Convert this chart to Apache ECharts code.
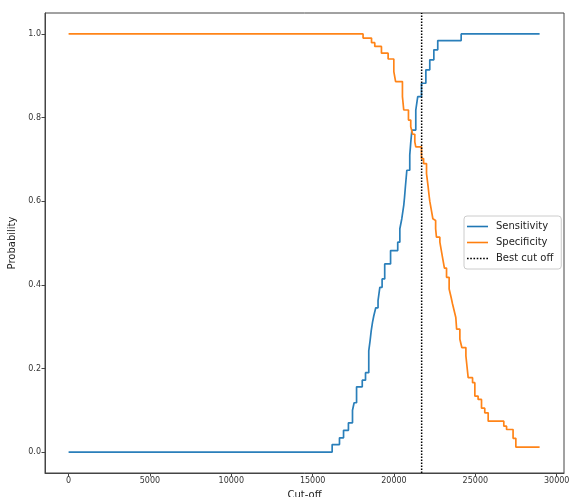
<!DOCTYPE html>
<html>
<head>
<meta charset="utf-8">
<script src="https://cdn.jsdelivr.net/npm/echarts@6/dist/echarts.min.js"></script>
<style>
  html, body { margin: 0; padding: 0; background: #fff; }
  #chart { width: 569px; height: 497px; }
</style>
</head>
<body>
<div id="chart"></div>
<script>
// cut-off value, probability (value holds until the next cut-off)
var sensitivity = [
    [0, 0], [16200, 0.018], [16650, 0.034], [16900, 0.052], [17200, 0.07],
    [17450, 0.1], [17550, 0.118], [17700, 0.156], [18050, 0.172], [18250, 0.19],
    [18450, 0.242], [18530, 0.266], [18600, 0.29], [18680, 0.31], [18760, 0.326],
    [18880, 0.345], [19020, 0.362], [19130, 0.394], [19270, 0.414], [19430, 0.45],
    [19790, 0.482], [20230, 0.502], [20360, 0.534], [20480, 0.558], [20600, 0.59],
    [20650, 0.61], [20700, 0.634], [20790, 0.674], [20970, 0.71], [21030, 0.74],
    [21100, 0.77], [21340, 0.818], [21460, 0.85], [21690, 0.882], [21960, 0.914],
    [22200, 0.938], [22450, 0.962], [22690, 0.984], [24130, 1.0], [28950, 1.0]
];
var specificity = [
    [0, 1], [18100, 0.99], [18620, 0.979], [18820, 0.97], [19230, 0.954],
    [19640, 0.94], [19990, 0.91], [20100, 0.886], [20520, 0.85], [20600, 0.818],
    [20890, 0.794], [21030, 0.778], [21150, 0.76], [21280, 0.742], [21340, 0.73],
    [21690, 0.702], [21820, 0.69], [22000, 0.666], [22100, 0.634], [22150, 0.616],
    [22200, 0.6], [22300, 0.578], [22390, 0.558], [22510, 0.554], [22560, 0.534],
    [22610, 0.514], [22820, 0.502], [22900, 0.484], [22980, 0.466], [23100, 0.44],
    [23230, 0.418], [23390, 0.39], [23500, 0.372], [23600, 0.354], [23700, 0.338],
    [23800, 0.322], [23850, 0.294], [24050, 0.27], [24170, 0.25], [24420, 0.23],
    [24490, 0.204], [24560, 0.178], [24830, 0.166], [24970, 0.134], [25170, 0.126],
    [25380, 0.105], [25580, 0.094], [25790, 0.074], [26750, 0.062], [26920, 0.054],
    [27320, 0.033], [27490, 0.012], [28950, 0.012]
];
var bestCutOff = 21700;
var xTicks = [0, 5000, 10000, 15000, 20000, 25000, 30000];
var yTicks = [0, 0.2, 0.4, 0.6, 0.8, 1.0];
var xRange = [-1450, 30450];
var yRange = [-0.05, 1.05];

var font = 'DejaVu Sans';
// legend glyphs: plain line, dotted line
var solidIcon = 'path://M0,0h21v1.6h-21z';
var dottedIcon = 'path://M0,0h1.6v1.6h-1.6z M3.2,0h1.6v1.6h-1.6z M6.4,0h1.6v1.6h-1.6z ' +
    'M9.6,0h1.6v1.6h-1.6z M12.8,0h1.6v1.6h-1.6z M16,0h1.6v1.6h-1.6z M19.2,0h1.6v1.6h-1.6z';

var chart = echarts.init(document.getElementById('chart'));

chart.setOption({
    backgroundColor: '#fff',
    animation: false,
    textStyle: { fontFamily: font },
    grid: {
        left: 45, right: 5, top: 13, bottom: 24,
        outerBoundsMode: 'none', containLabel: false,
        show: true, borderColor: '#444', borderWidth: 1
    },
    legend: {
        orient: 'vertical',
        left: 464, top: 216,
        padding: [4, 8, 4, 3],
        itemWidth: 21, itemHeight: 2, itemGap: 3,
        backgroundColor: 'rgba(255,255,255,0.8)',
        borderColor: '#ccc', borderWidth: 1, borderRadius: 3,
        textStyle: { fontFamily: font, fontSize: 10, color: '#222', padding: [0, 0, 0, 3], lineHeight: 13 },
        data: [
            { name: 'Sensitivity', icon: solidIcon },
            { name: 'Specificity', icon: solidIcon },
            { name: 'Best cut off', icon: dottedIcon }
        ]
    },
    xAxis: {
        type: 'value',
        min: xRange[0], max: xRange[1],
        name: 'Cut-off', nameLocation: 'middle', nameGap: 17,
        nameTextStyle: { fontFamily: font, fontSize: 10, color: '#222' },
        splitLine: { show: false },
        axisLine: { onZero: false, lineStyle: { color: '#444' } },
        axisTick: { customValues: xTicks, length: 3.5, lineStyle: { color: '#444' } },
        axisLabel: {
            customValues: xTicks, fontFamily: font, fontSize: 8, color: '#333', margin: 4,
            formatter: function (v) { return String(v); }
        }
    },
    yAxis: {
        type: 'value',
        min: yRange[0], max: yRange[1],
        name: 'Probability', nameLocation: 'middle', nameGap: 27,
        nameTextStyle: { fontFamily: font, fontSize: 10, color: '#222' },
        splitLine: { show: false },
        axisLine: { onZero: false, lineStyle: { color: '#444' } },
        axisTick: { customValues: yTicks, length: 3.5, lineStyle: { color: '#444' } },
        axisLabel: {
            customValues: yTicks, fontFamily: font, fontSize: 8, color: '#333', margin: 4,
            formatter: function (v) { return v.toFixed(1); }
        }
    },
    series: [
        {
            name: 'Sensitivity', type: 'line', step: 'end',
            symbol: 'none', data: sensitivity,
            itemStyle: { color: '#1f77b4' },
            lineStyle: { color: '#2a7fba', width: 1.7 }
        },
        {
            name: 'Specificity', type: 'line', step: 'end',
            symbol: 'none', data: specificity,
            itemStyle: { color: '#ff7f0e' },
            lineStyle: { color: '#ff8418', width: 1.7 }
        },
        {
            name: 'Best cut off', type: 'line',
            symbol: 'none',
            data: [[bestCutOff, yRange[0]], [bestCutOff, yRange[1]]],
            itemStyle: { color: '#000' },
            lineStyle: { color: '#000', width: 1.5, type: [1.5, 1.5] }
        }
    ]
});
</script>
</body>
</html>
